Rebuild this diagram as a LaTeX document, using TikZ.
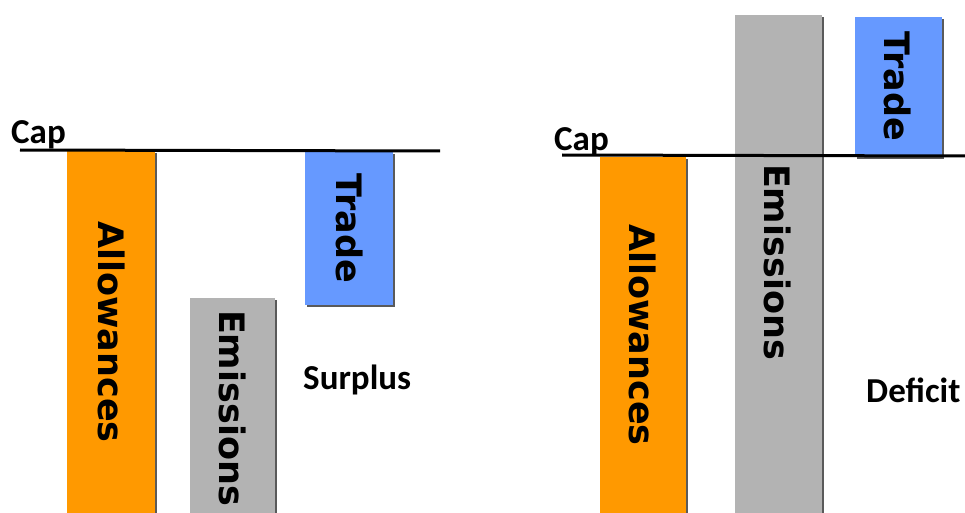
\documentclass[tikz,border=0pt]{standalone}
\usepackage{fontspec}
\setmainfont{DejaVu Sans}
\newfontfamily\lblfont{Carlito}
\definecolor{allow}{HTML}{FF9900}
\definecolor{emis}{HTML}{B3B3B3}
\definecolor{trade}{HTML}{6699FF}
\definecolor{shad}{HTML}{5A5A5A}
\begin{document}
\begin{tikzpicture}[x=1pt,y=-1pt,
  bartext/.style={font=\fontsize{35}{35}\selectfont\bfseries, rotate=-90, inner sep=0pt},
  lbl/.style={font=\lblfont\fontsize{35}{35}\selectfont\bfseries, inner sep=0pt, anchor=base west},
  capline/.style={line width=3pt, black},
  shadow/.style={fill=shad}]
\useasboundingbox (0,0) rectangle (965,513);
\begin{scope}
\clip (0,0) rectangle (965,513);
% left panel
\fill[shadow] (69,153) rectangle (157,520);
\fill[allow] (67,151) rectangle (155,520);
\fill[shadow] (192,300) rectangle (277,520);
\fill[emis] (190,298) rectangle (275,520);
\fill[shadow] (307,154) rectangle (395,307);
\fill[trade] (305,152) rectangle (393,305);
\node[bartext] (la) at (112,332) {Allowances};
\node[bartext] (le) at (233,408) {Emissions};
\node[bartext] (lt) at (350,228) {Trade};
\node[lbl] (lcap) at (11,144) {Cap};
\node[lbl] (sur) at (303,389) {Surplus};
\draw[capline] (20,150) -- (440,151);
% right panel
\fill[shadow] (602,159) rectangle (688,520);
\fill[allow] (600,157) rectangle (686,520);
\fill[shadow] (737,17) rectangle (824,520);
\fill[emis] (735,15) rectangle (822,520);
\fill[shadow] (857,19) rectangle (944,159);
\fill[trade] (855,17) rectangle (942,157);
\node[bartext] (ra) at (643,335) {Allowances};
\node[bartext] (re) at (778,262) {Emissions};
\node[bartext] (rt) at (898,86) {Trade};
\node[lbl] (rcap) at (554,150) {Cap};
\node[lbl] (def) at (866,402) {Deficit};
\draw[capline] (562,155) -- (965,156);
\end{scope}
\end{tikzpicture}
\end{document}
